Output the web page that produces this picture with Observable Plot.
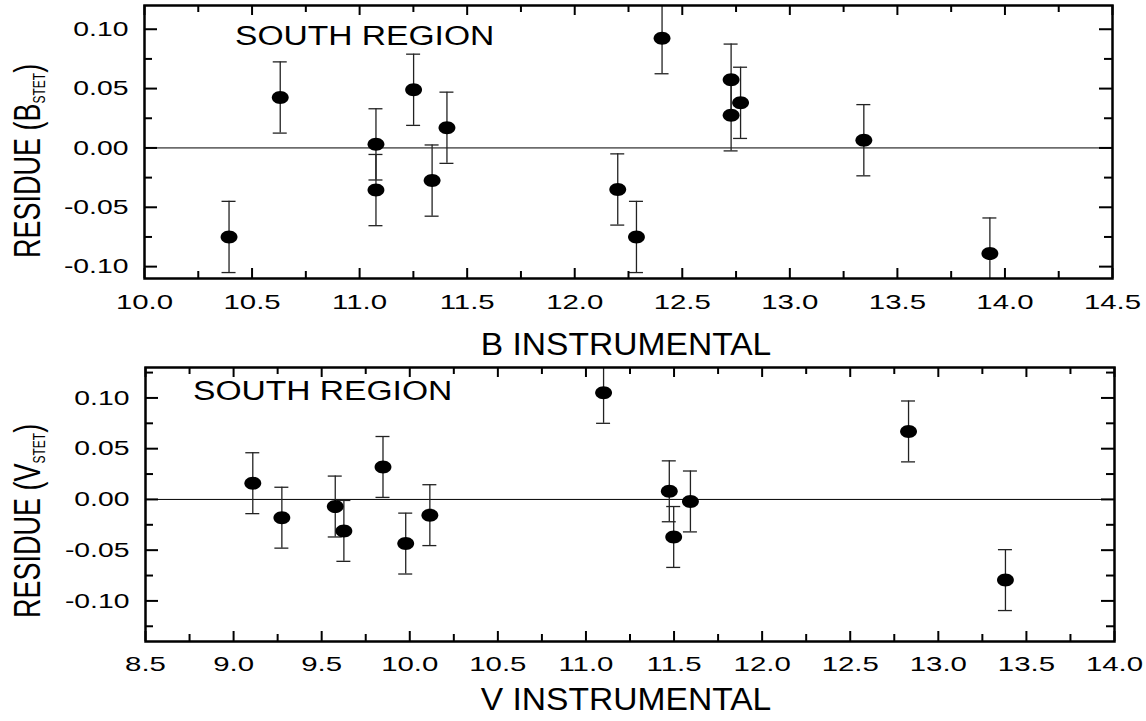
<!DOCTYPE html>
<html><head><meta charset="utf-8">
<script src="https://cdn.jsdelivr.net/npm/d3@7"></script>
<script src="https://cdn.jsdelivr.net/npm/@observablehq/plot@0.6"></script>
<style>body{margin:0;background:#fff} svg{display:block}</style>
</head><body><div id="chart"></div>
<script>
// ---- Top panel: B band ----
const bMag = [10.393, 10.631, 11.076, 11.076, 11.251, 11.337, 11.406, 12.200, 12.287, 12.406, 12.727, 12.727, 12.771, 13.344, 13.930];
const bRes = [-0.075, 0.0425, 0.003, -0.0355, 0.049, -0.0275, 0.017, -0.035, -0.075, 0.0925, 0.0575, 0.0275, 0.038, 0.0065, -0.089];
const bErr = [0.03, 0.03, 0.03, 0.03, 0.03, 0.03, 0.03, 0.03, 0.03, 0.03, 0.03, 0.03, 0.03, 0.03, 0.03];
const bXMajor = [10.0, 10.5, 11.0, 11.5, 12.0, 12.5, 13.0, 13.5, 14.0, 14.5];
const bXMinor = [10.25, 10.75, 11.25, 11.75, 12.25, 12.75, 13.25, 13.75, 14.25];
const bYMajor = [-0.10, -0.05, 0.00, 0.05, 0.10];
const bYMinor = [-0.075, -0.025, 0.025, 0.075];

// ---- Bottom panel: V band ----
const vMag = [9.109, 9.274, 9.577, 9.626, 9.848, 9.977, 10.114, 11.100, 11.473, 11.498, 11.593, 12.831, 13.381];
const vRes = [0.016, -0.018, -0.007, -0.031, 0.032, -0.0435, -0.0155, 0.105, 0.008, -0.037, -0.002, 0.067, -0.0795];
const vErr = [0.03, 0.03, 0.03, 0.03, 0.03, 0.03, 0.03, 0.03, 0.03, 0.03, 0.03, 0.03, 0.03];
const vXMajor = [8.5, 9.0, 9.5, 10.0, 10.5, 11.0, 11.5, 12.0, 12.5, 13.0, 13.5, 14.0];
const vXMinor = [8.75, 9.25, 9.75, 10.25, 10.75, 11.25, 11.75, 12.25, 12.75, 13.25, 13.75];
const vYMajor = [-0.10, -0.05, 0.00, 0.05, 0.10];
const vYMinor = [-0.125, -0.075, -0.025, 0.025, 0.075, 0.125];

const FONT = "'Liberation Sans', Arial, Helvetica, sans-serif";
const W = 1146;

const ellipse = {
  draw(ctx, size) {
    const r = Math.sqrt(size / Math.PI), rx = r * 1.3, ry = r, k = 0.5523;
    ctx.moveTo(rx, 0);
    ctx.bezierCurveTo(rx, ry * k, rx * k, ry, 0, ry);
    ctx.bezierCurveTo(-rx * k, ry, -rx, ry * k, -rx, 0);
    ctx.bezierCurveTo(-rx, -ry * k, -rx * k, -ry, 0, -ry);
    ctx.bezierCurveTo(rx * k, -ry, rx, -ry * k, rx, 0);
    ctx.closePath();
  }
};

function stretchText(svg, selector, s) {
  svg.querySelectorAll(selector).forEach(t => {
    let tr = t.getAttribute("transform") || "";
    const x = t.getAttribute("x"), y = t.getAttribute("y");
    if (x !== null || (y !== null && !/em$/.test(y))) {
      const xx = x !== null ? +x : 0;
      const yy = (y !== null && !/em$/.test(y)) ? +y : 0;
      tr = `translate(${xx},${yy}) ` + tr;
      t.removeAttribute("x");
      if (y !== null && !/em$/.test(y)) t.removeAttribute("y");
    }
    t.setAttribute("transform", tr + ` scale(${s},1)`);
  });
}

function panel(o) {
  const data = o.mag.map((x, i) => ({x, y: o.res[i], lo: o.res[i] - o.err[i], hi: o.res[i] + o.err[i]}));
  const iw = W - o.mL - o.mR, ih = o.height - o.mT - o.mB;
  const tickStyle = {stroke: "black", strokeWidth: 2};
  const svg = Plot.plot({
    width: W, height: o.height,
    marginTop: o.mT, marginBottom: o.mB, marginLeft: o.mL, marginRight: o.mR,
    x: {domain: o.xDomain},
    y: {domain: o.yDomain},
    style: {fontFamily: FONT, fontSize: "21px", color: "black", background: "white"},
    marks: [
      Plot.ruleY([0], {stroke: "black", strokeWidth: 1}),
      Plot.ruleX(data, {x: "x", y1: "lo", y2: "hi", stroke: "#222", strokeWidth: 1.3, clip: true}),
      Plot.ruleY(data, {y: "lo", x1: "x", x2: "x", insetLeft: -7, insetRight: -7, stroke: "#222", strokeWidth: 1.3, clip: true}),
      Plot.ruleY(data, {y: "hi", x1: "x", x2: "x", insetLeft: -7, insetRight: -7, stroke: "#222", strokeWidth: 1.3, clip: true}),
      Plot.dot(data, {x: "x", y: "y", r: 6.5, symbol: ellipse, fill: "black", stroke: "none"}),
      // inward ticks on all four sides
      Plot.ruleX(o.xMajor, {x: d => d, insetTop: ih - 10, ...tickStyle}),
      Plot.ruleX(o.xMajor, {x: d => d, insetBottom: ih - 10, ...tickStyle}),
      Plot.ruleX(o.xMinor, {x: d => d, insetTop: ih - 7, ...tickStyle}),
      Plot.ruleX(o.xMinor, {x: d => d, insetBottom: ih - 7, ...tickStyle}),
      Plot.ruleY(o.yMajor, {y: d => d, insetRight: iw - 13, ...tickStyle}),
      Plot.ruleY(o.yMajor, {y: d => d, insetLeft: iw - 13, ...tickStyle}),
      Plot.ruleY(o.yMinor, {y: d => d, insetRight: iw - 8, ...tickStyle}),
      Plot.ruleY(o.yMinor, {y: d => d, insetLeft: iw - 8, ...tickStyle}),
      Plot.frame({stroke: "black", strokeWidth: 2.5}),
      Plot.axisX(o.xMajor, {tickSize: 0, tickPadding: o.xPad, tickFormat: d => d.toFixed(1), label: null, fontSize: 21}),
      Plot.axisY(o.yMajor, {tickSize: 0, tickPadding: 16, tickFormat: d => d.toFixed(2), label: null, fontSize: 21})
    ]
  });
  stretchText(svg, 'g[aria-label="x-axis tick label"] text', 1.4);
  stretchText(svg, 'g[aria-label="y-axis tick label"] text', 1.35);

  const s = d3.select(svg);
  // x-axis title
  s.append("text")
    .attr("transform", `translate(626,${o.xTitleY}) scale(1.05,1)`)
    .attr("text-anchor", "middle").attr("font-size", 32).attr("fill", "black")
    .attr("font-family", FONT)
    .text(o.xTitle);
  // annotation
  s.append("text")
    .attr("transform", `translate(${o.noteX},${o.noteY}) scale(1.2,1)`)
    .attr("text-anchor", "start")
    .attr("font-size", 28).attr("fill", "black").attr("font-family", FONT)
    .text("SOUTH REGION");
  // y-axis title with subscript
  const yt = s.append("text")
    .attr("transform", `translate(40,${o.yTitleY}) scale(1.35,1) rotate(-90)`)
    .attr("text-anchor", "start")
    .attr("font-size", 27).attr("fill", "black").attr("font-family", FONT);
  yt.append("tspan").text(`RESIDUE (${o.band}`);
  yt.append("tspan").attr("font-size", 12).attr("dy", 4).text("STET");
  yt.append("tspan").attr("dy", -4).text(")");
  return svg;
}

const root = document.getElementById("chart");
root.appendChild(panel({
  mag: bMag, res: bRes, err: bErr,
  xDomain: [10, 14.5], yDomain: [-0.11, 0.12],
  xMajor: bXMajor, xMinor: bXMinor, yMajor: bYMajor, yMinor: bYMinor,
  height: 362, mT: 5, mB: 84, mL: 144, mR: 34, xPad: 16,
  xTitle: "B INSTRUMENTAL", xTitleY: 355, band: "B",
  noteX: 235, noteY: 45, yTitleY: 258
}));
root.appendChild(panel({
  mag: vMag, res: vRes, err: vErr,
  xDomain: [8.5, 14.0], yDomain: [-0.14, 0.13],
  xMajor: vXMajor, xMinor: vXMinor, yMajor: vYMajor, yMinor: vYMinor,
  height: 359, mT: 5, mB: 80, mL: 145, mR: 32, xPad: 15,
  xTitle: "V INSTRUMENTAL", xTitleY: 348, band: "V",
  noteX: 193, noteY: 38, yTitleY: 256
}));
</script>
</body></html>
